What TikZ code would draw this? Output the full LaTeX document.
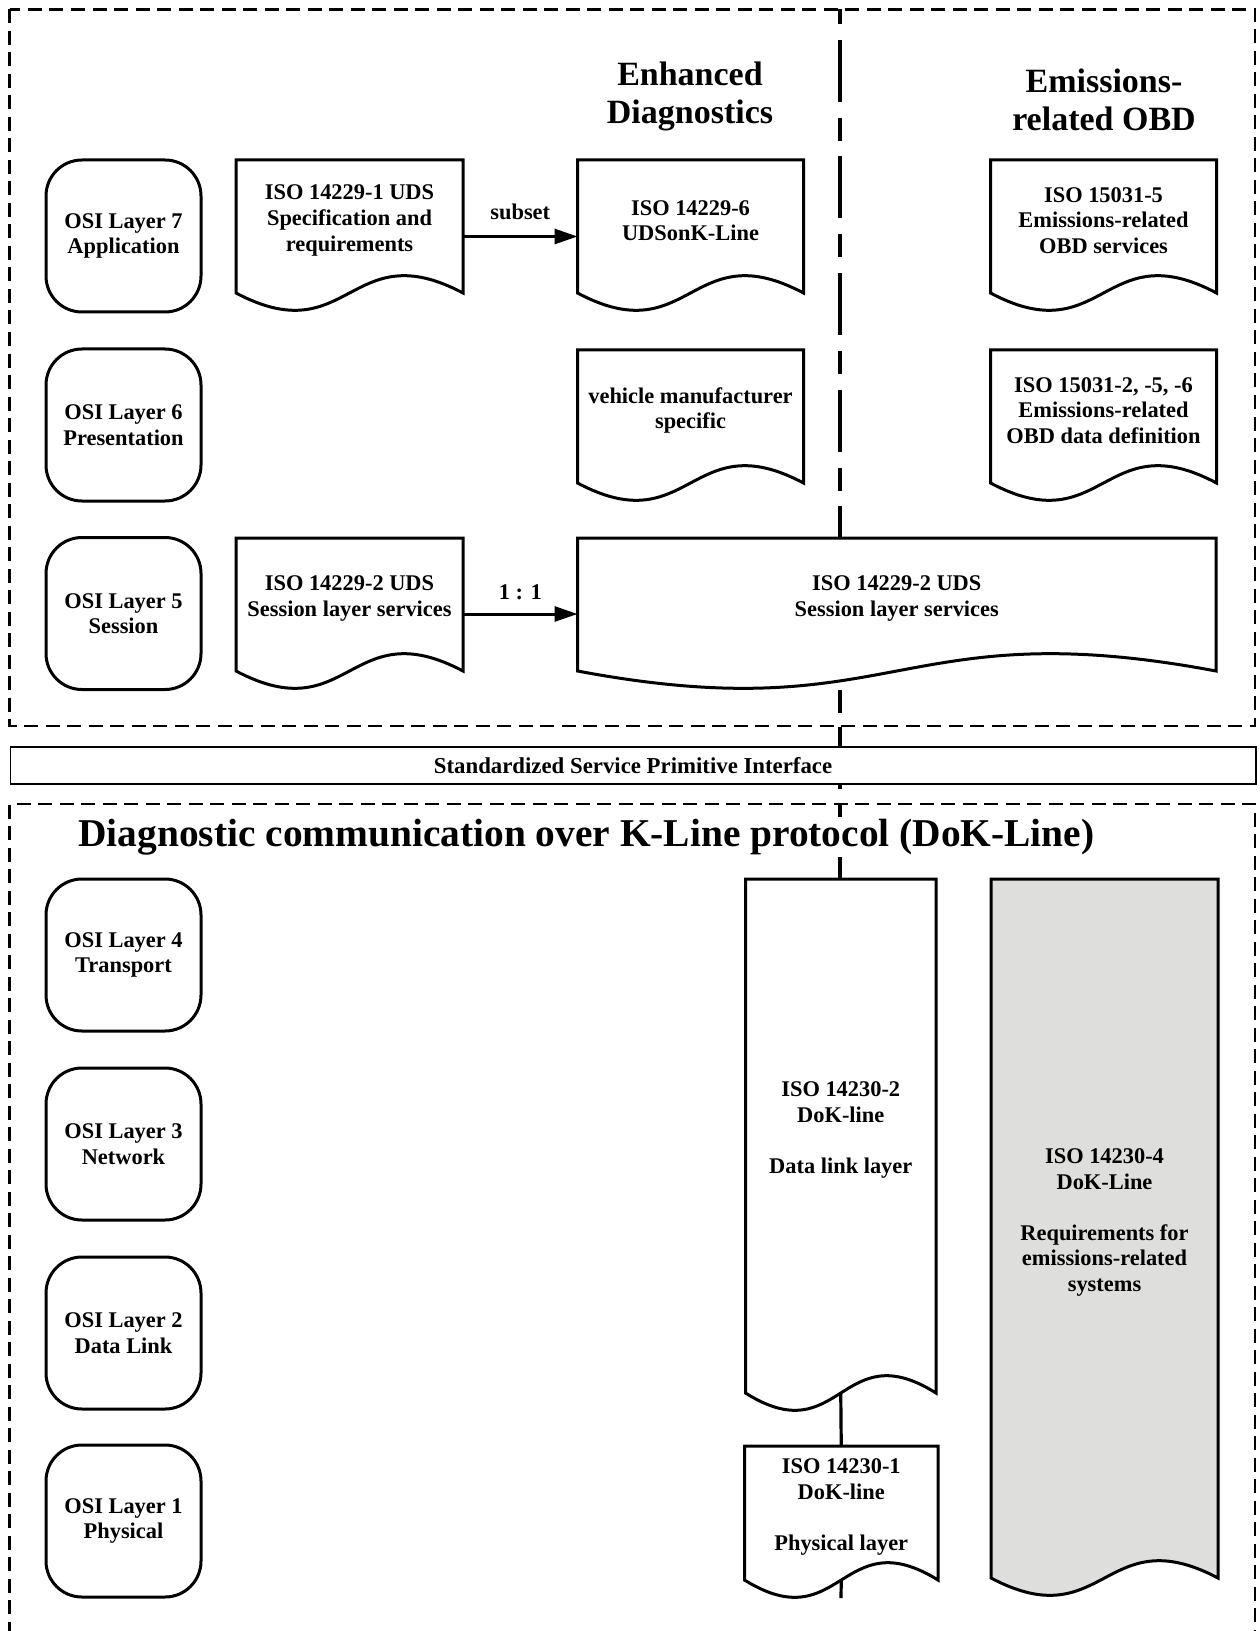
\documentclass[tikz,border=0pt]{standalone}
\usepackage{fontspec}
\setmainfont{Liberation Serif}
\usetikzlibrary{calc,arrows.meta}
\pgfdeclarelayer{background}
\pgfsetlayers{background,main}
\definecolor{docgray}{RGB}{222,222,220}
\newcommand{\txtfont}{\fontsize{11.2pt}{12.8pt}\selectfont\bfseries}
\newcommand{\docshape}[7]{%
  \node[docbody, minimum width=#4*0.5pt, minimum height=#5*0.5pt, anchor=north west] (#1) at (#2,#3) {};
  \draw[docline, fill=#6] (#1.north west) -- (#1.north east) -- (#1.south east)
     .. controls ($(#1.south)+(0,-60)$) and ($(#1.south)+(0,60)$) .. (#1.south west) -- cycle;
  \node[doctext] (#1t) at ($(#1.center)+(0,-6)$) {#7};
}
\begin{document}
\begin{tikzpicture}[x=0.5pt,y=-0.5pt,
  docbody/.style={inner sep=0pt, outer sep=0pt, draw=none},
  docline/.style={line width=1.5pt},
  doctext/.style={align=center, font=\txtfont, inner sep=0pt},
  osi/.style={draw, line width=1.5pt, rounded corners=18pt, minimum width=77.5pt, minimum height=76pt, align=center, font=\txtfont, inner sep=0pt, outer sep=0pt},
  zone/.style={line width=1.15pt, dash pattern=on 7pt off 3.75pt},
  sep/.style={line width=1.6pt},
  arr/.style={line width=1.5pt, -{Triangle[length=11.5pt, width=7.5pt]}},
  lbl/.style={font=\txtfont, inner sep=0pt},
  head/.style={align=center, font=\fontsize{17pt}{19pt}\selectfont\bfseries, inner sep=0pt},
]
\useasboundingbox (0,0) rectangle (1259,1631);
\clip (0,0) rectangle (1259,1631);

% zones
\draw[zone] (9.5,9.5) rectangle (1255,726);
\draw[zone] (9.5,1700) -- (9.5,804) -- (1255,804) -- (1255,1700);

% interface
\node[draw, line width=0.8pt, fill=white, minimum width=622.75pt, minimum height=18.5pt, anchor=north west, inner sep=0pt, font=\fontsize{11.4pt}{12pt}\selectfont\bfseries] (ssp) at (9.5,746) {Standardized Service Primitive Interface};

% headings
\node[head] (hed) at (690,96.7) {Enhanced\\Diagnostics};
\node[head] (hobd) at (1104,100.3) {Emissions-\\related OBD};
\node[anchor=west, fill=white, inner sep=1pt, font=\fontsize{19.7pt}{22pt}\selectfont\bfseries] (title) at (76,837) {Diagnostic communication over K-Line protocol (DoK-Line)};

% OSI layers
\node[osi] (L7) at (123.5,236) {OSI Layer 7\\Application};
\node[osi] (L6) at (123.5,425) {OSI Layer 6\\Presentation};
\node[osi] (L5) at (123.5,613.5) {OSI Layer 5\\Session};
\node[osi] (L4) at (123.5,955) {OSI Layer 4\\Transport};
\node[osi] (L3) at (123.5,1144) {OSI Layer 3\\Network};
\node[osi] (L2) at (123.5,1333) {OSI Layer 2\\Data Link};
\node[osi] (L1) at (123.5,1521) {OSI Layer 1\\Physical};

% documents
\docshape{d1}{236}{160}{227}{133}{white}{ISO 14229-1 UDS\\Specification and\\requirements}
\docshape{d2}{577.5}{160}{226}{133}{white}{ISO 14229-6\\UDSonK-Line}
\docshape{d3}{990.5}{160}{226}{133}{white}{ISO 15031-5\\Emissions-related\\OBD services}
\docshape{d4}{577.5}{350}{226}{133}{white}{vehicle manufacturer\\specific}
\docshape{d5}{990.5}{350}{226}{133}{white}{ISO 15031-2, -5, -6\\Emissions-related\\OBD data definition}
\docshape{d6}{236}{538}{227}{133}{white}{ISO 14229-2 UDS\\Session layer services}
\docshape{d7}{577.5}{538}{638.5}{133}{white}{ISO 14229-2 UDS\\Session layer services}
\docshape{d8}{745.5}{879}{190.5}{514}{white}{ISO 14230-2\\DoK-line\\[12.8pt]Data link layer}
\docshape{d9}{744.5}{1446}{193.5}{134}{white}{ISO 14230-1\\DoK-line\\[12.8pt]Physical layer}
\docshape{d10}{991}{879}{227}{699}{docgray}{ISO 14230-4\\DoK-Line\\[12.8pt]Requirements for\\emissions-related\\systems}

% arrows
\draw[arr] ([yshift=-5pt]d1.east) -- node[lbl, above=7.5pt] (lsub) {subset} ([yshift=-5pt]d2.west);
\draw[arr] ([yshift=-4.75pt]d6.east) -- node[lbl, above=6.5pt] (l11) {1 : 1} ([yshift=-4.75pt]d7.west);

% separator line
\coordinate (vtop) at (840,9.5);
\coordinate (vlow) at (840,690);
\coordinate (vend) at (841,1598);
\begin{pgfonlayer}{background}
\draw[sep, dash pattern=on 11.5pt off 7.75pt on 31pt off 8pt, dash phase=4pt] (vtop) -- (vtop |- d7.north);
\draw[sep, dash pattern=on 11.5pt off 7pt on 31pt off 8pt] (vlow) -- (vlow |- d8.north);
\end{pgfonlayer}
\draw[sep] (d8.south) -- (d9.north);
\draw[sep] (d9.south) -- (vend);
\end{tikzpicture}
\end{document}
